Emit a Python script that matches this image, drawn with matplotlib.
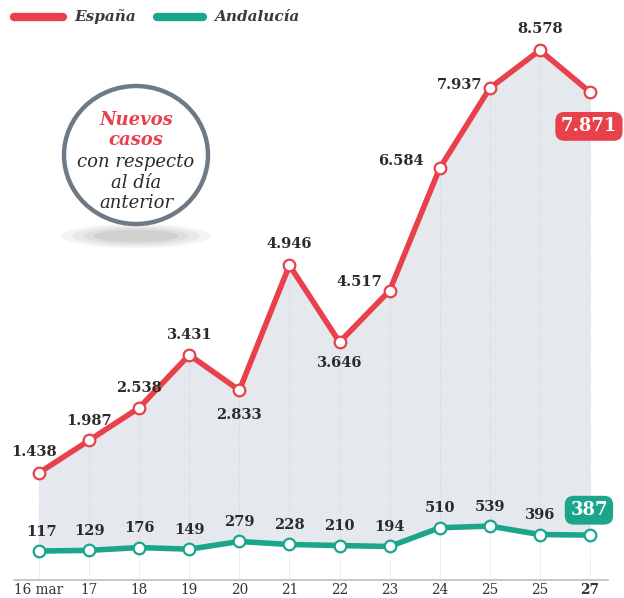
import matplotlib.pyplot as plt
from matplotlib.patches import Circle, Ellipse
import numpy as np

dias = ['16 mar', '17', '18', '19', '20', '21', '22', '23', '24', '25', '25', '27']
espana = [1438, 1987, 2538, 3431, 2833, 4946, 3646, 4517, 6584, 7937, 8578, 7871]
andalucia = [117, 129, 176, 149, 279, 228, 210, 194, 510, 539, 396, 387]

rojo = '#e8414b'
verde = '#1ba68b'
texto = '#2b2b2b'

def fmt(v):
    return f'{v:,}'.replace(',', '.')

plt.rcParams['font.family'] = ['DejaVu Serif']

fig = plt.figure(figsize=(6.24, 5.98), dpi=100)
ax = fig.add_axes([0, 0, 1, 1])
ax.set_xlim(-0.779, 11.68)
ax.set_ylim(-676, 9426)
ax.axis('off')

x = np.arange(len(dias))

# fondo gris entre las dos series
ax.fill_between(x, andalucia, espana, color='#e5e8ed', zorder=1, lw=0)

# rejilla vertical punteada
for i in x:
    ax.plot([i, i], [-370, espana[i]], color='#d2d5da', lw=0.7, ls=(0, (1, 1.5)), zorder=1.5)

# eje
ax.plot([-0.5, 11.36], [-370, -370], color='#bdbdbd', lw=1.2, zorder=2)
for i, d in enumerate(dias):
    ax.text(i, -540, d, ha='center', va='center', fontsize=9.8, color='#333333',
            fontweight='bold' if i == len(dias) - 1 else 'normal')

# lineas
ax.plot(x, espana, color=rojo, lw=4, zorder=3, solid_joinstyle='round')
ax.plot(x, andalucia, color=verde, lw=4, zorder=3, solid_joinstyle='round')
ax.scatter(x, espana, s=70, facecolor='white', edgecolor=rojo, lw=1.6, zorder=4)
ax.scatter(x, andalucia, s=70, facecolor='white', edgecolor=verde, lw=1.6, zorder=4)

# etiquetas Espana
desp = {0: (-0.1, 360), 1: (0, 330), 2: (0, 330), 3: (0, 330), 4: (0, -420),
        5: (0, 360), 6: (0, -360), 7: (-0.6, 150), 8: (-0.78, 130),
        9: (-0.6, 50), 10: (0, 360)}
for i, (dx, dy) in desp.items():
    ax.text(i + dx, espana[i] + dy, fmt(espana[i]), ha='center', va='center',
            fontsize=10.5, fontweight='bold', color=texto, zorder=5)

# etiquetas Andalucia
for i in range(len(dias) - 1):
    ax.text(i + 0.05 if i == 0 else i, andalucia[i] + 330, fmt(andalucia[i]),
            ha='center', va='center', fontsize=10.5, fontweight='bold', color=texto, zorder=5)

# cajas del ultimo dato
ax.text(10.98, espana[-1] - 580, fmt(espana[-1]), ha='center', va='center',
        fontsize=13, fontweight='bold', color='white', zorder=6,
        bbox=dict(boxstyle='round,pad=0.3,rounding_size=0.5', fc=rojo, ec='none'))
ax.text(10.98, andalucia[-1] + 420, fmt(andalucia[-1]), ha='center', va='center',
        fontsize=13, fontweight='bold', color='white', zorder=6,
        bbox=dict(boxstyle='round,pad=0.3,rounding_size=0.5', fc=verde, ec='none'))

# leyenda
ax.plot([-0.5, 0.47], [9140, 9140], color=rojo, lw=6, solid_capstyle='round', clip_on=False)
ax.text(0.7, 9140, 'España', ha='left', va='center', fontsize=11, fontweight='bold',
        style='italic', color='#3a3a3a')
ax.plot([2.35, 3.28], [9140, 9140], color=verde, lw=6, solid_capstyle='round', clip_on=False)
ax.text(3.5, 9140, 'Andalucía', ha='left', va='center', fontsize=11, fontweight='bold',
        style='italic', color='#3a3a3a')

# circulo con sombra
cx, cy, r = 136, 155, 72
for k, a in enumerate([0.10, 0.12, 0.15, 0.18]):
    fig.patches.append(Ellipse((cx / 624, 1 - 236 / 598), (150 - k * 22) / 624, (24 - k * 4) / 598,
                               transform=fig.transFigure, fc='#9a9a9a', ec='none', alpha=a,
                               zorder=0.5))
fig.patches.append(Circle((cx / 624, 1 - cy / 598), r / 624, transform=fig.transFigure,
                          fc='white', ec='#6f7a87', lw=3.2, zorder=7))
lineas = [('Nuevos', rojo, 'bold'), ('casos', rojo, 'bold'),
          ('con respecto', texto, 'normal'), ('al día', texto, 'normal'),
          ('anterior', texto, 'normal')]
ys = [120, 140, 162, 183, 203]
for (t, c, w), yy in zip(lineas, ys):
    fig.text(cx / 624, 1 - yy / 598, t, ha='center', va='center',
             fontsize=13, style='italic', fontweight=w, color=c, zorder=8)

fig.savefig('out.png', dpi=100)
